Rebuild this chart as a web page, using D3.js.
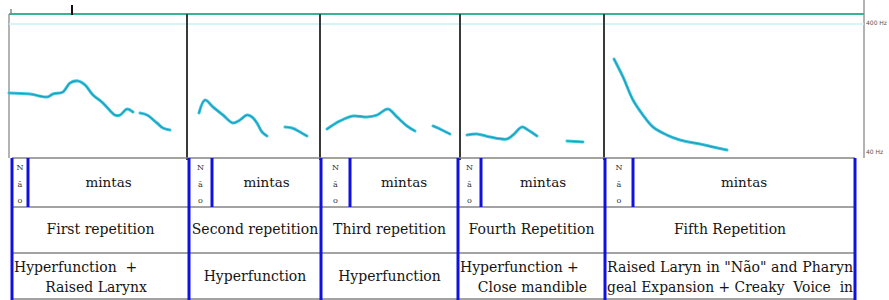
<!DOCTYPE html>
<html>
<head>
<meta charset="utf-8">
<script src="https://cdn.jsdelivr.net/npm/d3@7"></script>
<style>
html,body{margin:0;padding:0;background:#fff;}
svg{display:block;}
</style>
</head>
<body>
<svg id="c" width="889" height="300"></svg>
<script>
// ---- data ----
const repetitions = ["First repetition","Second repetition","Third repetition","Fourth Repetition","Fifth Repetition"];
const wordLabel = "mintas";
const naoLetters = ["N","ã","o"];
const descriptions = [
  ["Hyperfunction  +","       Raised Larynx"],
  ["Hyperfunction"],
  ["Hyperfunction"],
  ["Hyperfunction +","    Close mandible"],
  ["Raised Laryn in \"Não\" and Pharyn","geal Expansion + Creaky  Voice  in"]
];
const yTicks = [400, 40];
const yTickLabels = ["400 Hz","40 Hz"];
// panel boundaries of the pitch display (s)
const panelBounds = [0, 1.78, 3.11, 4.51, 5.95, 8.55];
// table column boundaries (s) and end of "Não" (s)
const colBounds = [0.03, 1.80, 3.12, 4.49, 5.96, 8.46];
const naoEnd = [0.19, 2.03, 3.41, 4.72, 6.24];
const cursorT = 0.63;
// F0 contours: segments of [time s, Hz]
const rep1 = [
  [[0.00,112.6],[0.21,110.6],[0.38,104.9],[0.44,110.6],[0.54,114.7],[0.61,134.7],[0.69,139.6],[0.76,130.0],[0.84,108.7],[0.94,94.2],[1.06,76.0],[1.11,76.0],[1.18,84.6],[1.24,80.2]],
  [[1.31,78.8],[1.38,76.0],[1.48,65.9],[1.54,60.3],[1.61,58.2]]
];
const rep2 = [
  [[1.90,78.8],[1.96,99.4],[2.04,87.7],[2.14,76.0],[2.24,65.9],[2.31,69.6],[2.38,76.0],[2.43,73.4],[2.48,65.9],[2.53,56.2],[2.58,52.3]],
  [[2.76,61.4],[2.83,60.3],[2.91,56.2],[2.98,52.3]]
];
const rep3 = [
  [[3.18,59.2],[3.31,68.4],[3.44,74.7],[3.58,73.4],[3.68,76.0],[3.79,84.6],[3.88,73.4],[3.98,62.5],[4.06,57.2]],
  [[4.24,62.5],[4.33,58.2],[4.41,54.2]]
];
const rep4 = [
  [[4.58,53.2],[4.68,54.2],[4.81,51.4],[4.98,49.6],[5.04,53.2],[5.13,61.4],[5.19,58.2],[5.28,52.3]],
  [[5.58,47.8],[5.74,47.0]]
];
const rep5 = [
  [[6.05,206.7],[6.14,149.9],[6.24,99.4],[6.34,76.0],[6.44,61.4],[6.58,53.2],[6.71,48.7],[6.91,45.3],[7.04,43.0],[7.18,40.7]]
];
const contours = [rep1, rep2, rep3, rep4, rep5];

// ---- drawing ----
const svg = d3.select("#c");
const x = d3.scaleLinear().domain([0, 8.55]).range([9, 864]);
const y = d3.scaleLog().domain([40, 400]).range([151, 22]);
const plotTop = 14, plotBottom = 158;
const rowY = [158, 207, 253, 299];
const serif = "'DejaVu Serif', serif";
const ink = "#151515";

// plot frame
const gp = svg.append("g");
gp.append("line").attr("x1", x(0)).attr("x2", x(0)).attr("y1", plotTop).attr("y2", plotBottom)
  .attr("stroke", "#9a9a9a").attr("stroke-width", 1.5);
gp.append("line").attr("x1", x(8.55)).attr("x2", x(8.55)).attr("y1", 0).attr("y2", plotBottom)
  .attr("stroke", "#9a9a9a").attr("stroke-width", 1.5);
gp.append("line").attr("x1", x(0)).attr("x2", x(8.55)).attr("y1", 24).attr("y2", 24)
  .attr("stroke", "#c9f1f3").attr("stroke-width", 1.5);
gp.append("line").attr("x1", x(0)).attr("x2", x(8.55)).attr("y1", plotTop).attr("y2", plotTop)
  .attr("stroke", "#35b597").attr("stroke-width", 2);
// cursor marks
gp.append("line").attr("x1", x(cursorT)).attr("x2", x(cursorT)).attr("y1", 5).attr("y2", 15)
  .attr("stroke", "#111").attr("stroke-width", 2);
gp.append("line").attr("x1", x(0.02)).attr("x2", x(0.02)).attr("y1", 9).attr("y2", 14)
  .attr("stroke", "#888").attr("stroke-width", 1.5);
// panel dividers
gp.selectAll("line.div").data(panelBounds.slice(1, -1)).enter().append("line")
  .attr("class", "div")
  .attr("x1", d => x(d)).attr("x2", d => x(d)).attr("y1", plotTop).attr("y2", plotBottom + 2)
  .attr("stroke", "#3a3a3a").attr("stroke-width", 2);

// y axis labels on right
gp.selectAll("text.yt").data(yTicks).enter().append("text")
  .attr("class", "yt")
  .attr("x", x(8.55) + 2).attr("y", d => y(d) + 3)
  .attr("font-family", "'DejaVu Sans', sans-serif").attr("font-size", 6).attr("fill", "#555")
  .text((d, i) => yTickLabels[i]);

// contours
const line = d3.line().x(d => x(d[0])).y(d => y(d[1])).curve(d3.curveCatmullRom.alpha(0.5));
const segs = contours.flat();
gp.selectAll("path.glow").data(segs).enter().append("path")
  .attr("d", line).attr("fill", "none").attr("stroke", "#3cc8e0").attr("stroke-width", 3)
  .attr("stroke-linecap", "round").attr("stroke-linejoin", "round");
gp.selectAll("path.core").data(segs).enter().append("path")
  .attr("d", line).attr("fill", "none").attr("stroke", "#1787a8").attr("stroke-width", 1.2)
  .attr("stroke-opacity", 0.7).attr("stroke-linecap", "round");

// table
const gt = svg.append("g");
gt.selectAll("line.h").data(rowY).enter().append("line")
  .attr("x1", x(colBounds[0])).attr("x2", x(colBounds[5]))
  .attr("y1", d => d).attr("y2", d => d)
  .attr("stroke", "#858585").attr("stroke-width", 1.5);
gt.selectAll("line.v").data(colBounds).enter().append("line")
  .attr("x1", d => x(d)).attr("x2", d => x(d)).attr("y1", rowY[0]).attr("y2", 300)
  .attr("stroke", "#1010e0").attr("stroke-width", 3);
gt.selectAll("line.n").data(naoEnd).enter().append("line")
  .attr("x1", d => x(d)).attr("x2", d => x(d)).attr("y1", rowY[0]).attr("y2", rowY[1])
  .attr("stroke", "#1010e0").attr("stroke-width", 3);

// clip paths per column
repetitions.forEach((r, i) => {
  svg.append("clipPath").attr("id", "clip" + i).append("rect")
    .attr("x", x(colBounds[i]) + 1.5).attr("y", rowY[0])
    .attr("width", x(colBounds[i + 1]) - x(colBounds[i]) - 3).attr("height", 300 - rowY[0]);
});

repetitions.forEach((r, i) => {
  const x0 = x(colBounds[i]), x1 = x(colBounds[i + 1]), xn = x(naoEnd[i]);
  const g = gt.append("g").attr("clip-path", "url(#clip" + i + ")");
  naoLetters.forEach((l, k) => {
    g.append("text").attr("x", (x0 + xn) / 2).attr("y", [170, 187, 203][k])
      .attr("text-anchor", "middle").attr("font-family", serif).attr("font-size", 8).attr("fill", "#333")
      .text(l);
  });
  g.append("text").attr("x", (xn + x1) / 2).attr("y", 187)
    .attr("text-anchor", "middle").attr("font-family", serif).attr("font-size", 13.5).attr("fill", ink)
    .text(wordLabel);
  g.append("text").attr("x", (x0 + x1) / 2).attr("y", 234)
    .attr("text-anchor", "middle").attr("font-family", serif).attr("font-size", 14).attr("fill", ink)
    .text(r);
  const desc = descriptions[i];
  if (desc.length === 1) {
    g.append("text").attr("x", (x0 + x1) / 2).attr("y", 281)
      .attr("text-anchor", "middle").attr("font-family", serif).attr("font-size", 14).attr("fill", ink)
      .text(desc[0]);
  } else {
    desc.forEach((t, k) => {
      const tx = g.append("text").attr("x", x0 + 2).attr("y", k === 0 ? 272 : 292)
        .attr("font-family", serif).attr("font-size", 14).attr("fill", ink)
        .attr("xml:space", "preserve").style("white-space", "pre")
        .text(t);
      if (i === 4) tx.attr("textLength", x1 - x0 - 4).attr("lengthAdjust", "spacingAndGlyphs");
    });
  }
});
</script>
</body>
</html>
